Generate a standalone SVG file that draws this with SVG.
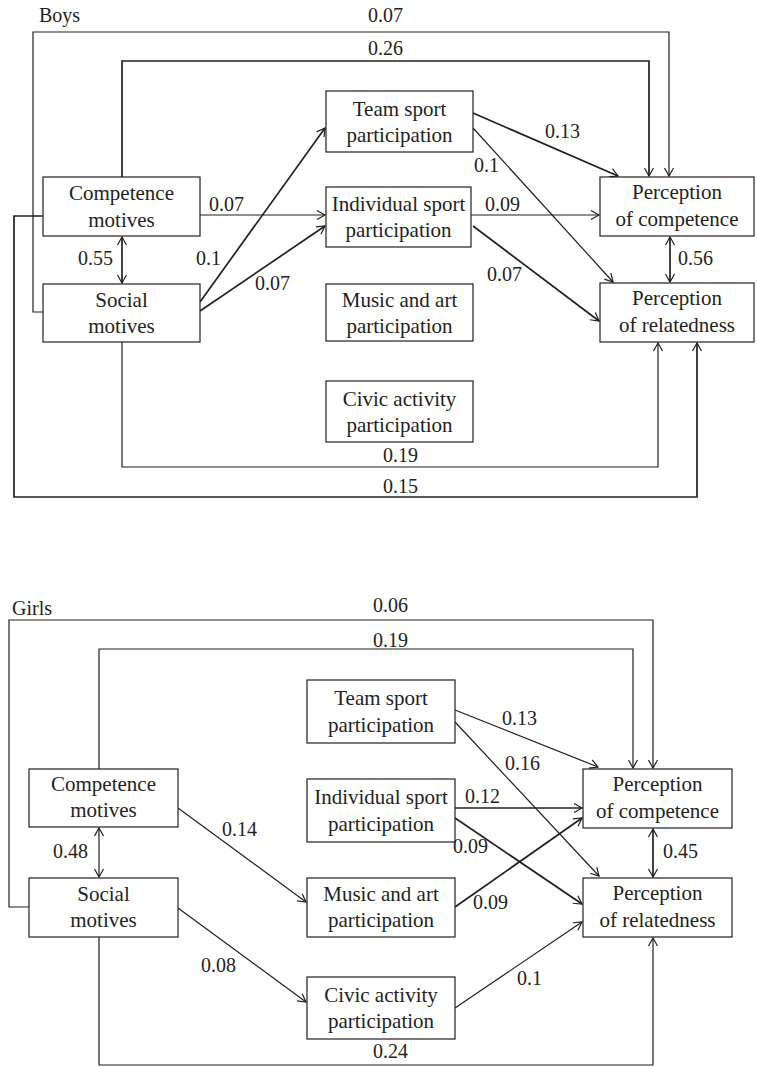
<svg xmlns="http://www.w3.org/2000/svg" width="757" height="1067" viewBox="0 0 757 1067">
<style>
.box rect{fill:#fff;stroke:#231f20;stroke-width:1.2}
.box text{font-family:"Liberation Serif",serif;font-size:21px;fill:#231f20;text-anchor:middle}
.lbl{font-family:"Liberation Serif",serif;font-size:20px;fill:#231f20}
#connectors path{fill:none;stroke:#231f20;stroke-width:1.2}
#connectors path.b{stroke-width:1.7}
.a{marker-end:url(#ah)}
.d{marker-end:url(#ah);marker-start:url(#ahs)}
</style>
<defs>
<marker id="ah" markerUnits="userSpaceOnUse" markerWidth="12" markerHeight="12" viewBox="-10 -6 12 12" refX="0" refY="0" orient="auto">
<path d="M-8,-4.5 L0,0 L-8,4.5" fill="none" stroke="#231f20" stroke-width="1.2"/>
</marker>
<marker id="ahs" markerUnits="userSpaceOnUse" markerWidth="12" markerHeight="12" viewBox="-10 -6 12 12" refX="0" refY="0" orient="auto-start-reverse">
<path d="M-8,-4.5 L0,0 L-8,4.5" fill="none" stroke="#231f20" stroke-width="1.2"/>
</marker>
</defs>
<rect width="757" height="1067" fill="#fff"/>

<g id="connectors">
<!-- Boys -->
<path class="a" d="M43,312 H33 V32 H669 V176"/>
<path class="a b" d="M122,177 V61 H649 V176"/>
<path class="a b" d="M43,216 H14 V497 H697 V343"/>
<path class="a" d="M122,342 V467 H658 V343"/>
<path class="d b" d="M122,237 V283"/>
<path class="d b" d="M670,237 V282"/>
<path class="a" d="M200,215 H325"/>
<path class="a b" d="M200,302 L325,128"/>
<path class="a b" d="M200,311 L325,226"/>
<path class="a b" d="M473,113 L618,176"/>
<path class="a" d="M473,128 L613,282"/>
<path class="a" d="M471,215 H599"/>
<path class="a b" d="M473,226 L599,321"/>
<!-- Girls -->
<path class="a" d="M29,907 H9 V620 H653 V768"/>
<path class="a" d="M99,769 V649 H633 V768"/>
<path class="a" d="M99,937 V1065 H653 V938"/>
<path class="d" d="M99,828 V877"/>
<path class="d b" d="M653,829 V877"/>
<path class="a" d="M178,808 L306,902"/>
<path class="a" d="M178,908 L306,1002"/>
<path class="a" d="M455,710 L598,767"/>
<path class="a" d="M455,722 L599,876"/>
<path class="a b" d="M455,808 H582"/>
<path class="a b" d="M455,818 L582,904"/>
<path class="a b" d="M455,907 L582,818"/>
<path class="a" d="M455,1008 L582,922"/>
</g>

<!-- Boys nodes -->
<text class="lbl" x="39" y="22">Boys</text>
<g id="b-comp" class="box"><rect x="43" y="177" width="157" height="59"/><text x="121.5" y="200">Competence</text><text x="121.5" y="226.5">motives</text></g>
<g id="b-social" class="box"><rect x="43" y="284" width="157" height="58"/><text x="121.5" y="307">Social</text><text x="121.5" y="333">motives</text></g>
<g id="b-team" class="box"><rect x="326" y="91" width="147" height="61"/><text x="399.5" y="115.5">Team sport</text><text x="399.5" y="141.5">participation</text></g>
<g id="b-ind" class="box"><rect x="326" y="187" width="145" height="60"/><text x="398.5" y="211">Individual sport</text><text x="398.5" y="237">participation</text></g>
<g id="b-music" class="box"><rect x="326" y="284" width="147" height="57"/><text x="399.5" y="306.5">Music and art</text><text x="399.5" y="332.5">participation</text></g>
<g id="b-civic" class="box"><rect x="326" y="381" width="147" height="61"/><text x="399.5" y="405.5">Civic activity</text><text x="399.5" y="431.5">participation</text></g>
<g id="b-poc" class="box"><rect x="600" y="177" width="154" height="59"/><text x="677" y="199">Perception</text><text x="677" y="225.5">of competence</text></g>
<g id="b-por" class="box"><rect x="600" y="283" width="154" height="59"/><text x="677" y="305">Perception</text><text x="677" y="331.5">of relatedness</text></g>

<g id="b-labels">
<text class="lbl" x="368" y="22">0.07</text>
<text class="lbl" x="368" y="55">0.26</text>
<text class="lbl" x="209" y="211">0.07</text>
<text class="lbl" x="78" y="265">0.55</text>
<text class="lbl" x="196" y="265">0.1</text>
<text class="lbl" x="255" y="290">0.07</text>
<text class="lbl" x="545" y="138">0.13</text>
<text class="lbl" x="474" y="172">0.1</text>
<text class="lbl" x="485" y="211">0.09</text>
<text class="lbl" x="487" y="281">0.07</text>
<text class="lbl" x="678" y="265">0.56</text>
<text class="lbl" x="383" y="462">0.19</text>
<text class="lbl" x="383" y="493">0.15</text>
</g>

<!-- Girls nodes -->
<text class="lbl" x="12" y="615">Girls</text>
<g id="g-comp" class="box"><rect x="29" y="769" width="149" height="58"/><text x="103.5" y="791">Competence</text><text x="103.5" y="817">motives</text></g>
<g id="g-social" class="box"><rect x="29" y="878" width="149" height="59"/><text x="103.5" y="901">Social</text><text x="103.5" y="927">motives</text></g>
<g id="g-team" class="box"><rect x="307" y="680" width="148" height="63"/><text x="381" y="705">Team sport</text><text x="381" y="731.5">participation</text></g>
<g id="g-ind" class="box"><rect x="307" y="779" width="148" height="63"/><text x="381" y="804">Individual sport</text><text x="381" y="830.5">participation</text></g>
<g id="g-music" class="box"><rect x="307" y="878" width="148" height="59"/><text x="381" y="901">Music and art</text><text x="381" y="927">participation</text></g>
<g id="g-civic" class="box"><rect x="307" y="977" width="148" height="62"/><text x="381" y="1001.5">Civic activity</text><text x="381" y="1028">participation</text></g>
<g id="g-poc" class="box"><rect x="583" y="769" width="149" height="59"/><text x="657.5" y="791">Perception</text><text x="657.5" y="817.5">of competence</text></g>
<g id="g-por" class="box"><rect x="583" y="878" width="149" height="59"/><text x="657.5" y="900">Perception</text><text x="657.5" y="926.5">of relatedness</text></g>

<g id="g-labels">
<text class="lbl" x="373" y="612">0.06</text>
<text class="lbl" x="373" y="647">0.19</text>
<text class="lbl" x="502" y="725">0.13</text>
<text class="lbl" x="505" y="770">0.16</text>
<text class="lbl" x="465" y="803">0.12</text>
<text class="lbl" x="222" y="836">0.14</text>
<text class="lbl" x="53" y="858">0.48</text>
<text class="lbl" x="663" y="858">0.45</text>
<text class="lbl" x="453" y="853">0.09</text>
<text class="lbl" x="473" y="909">0.09</text>
<text class="lbl" x="201" y="972">0.08</text>
<text class="lbl" x="517" y="985">0.1</text>
<text class="lbl" x="373" y="1058">0.24</text>
</g>
</svg>
